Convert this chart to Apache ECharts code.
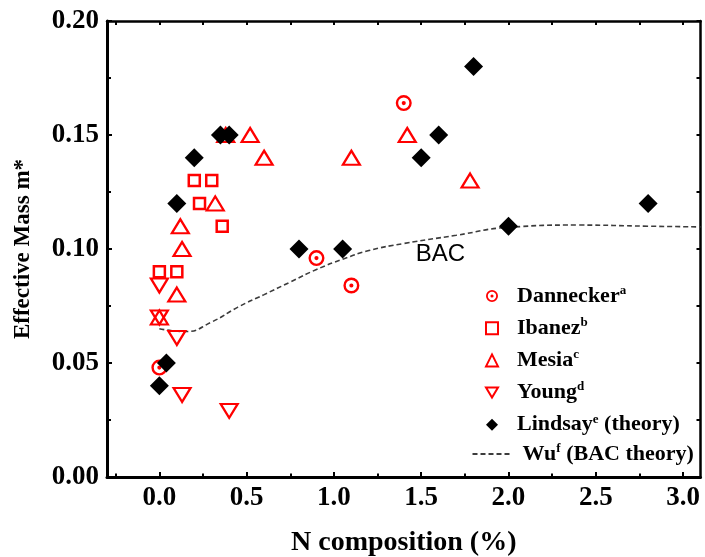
<!DOCTYPE html>
<html>
<head>
<meta charset="utf-8">
<script src="https://cdn.jsdelivr.net/npm/echarts@6/dist/echarts.min.js"></script>
<style>
  html, body { margin: 0; padding: 0; background: #fff; }
  #chart { width: 705px; height: 557px; }
</style>
</head>
<body>
<div id="chart"></div>
<script>
// Effective mass m* versus N composition (%) — [x, y] pairs per data set
const dannecker = [[0.0, 0.048], [0.9, 0.096], [1.1, 0.084], [1.4, 0.164]];
const ibanez = [[0.0, 0.090], [0.1, 0.090], [0.2, 0.130], [0.3, 0.130], [0.23, 0.120], [0.36, 0.110]];
const mesia = [[0.0, 0.070], [0.1, 0.080], [0.13, 0.100], [0.12, 0.110], [0.32, 0.120], [0.38, 0.150],
               [0.52, 0.150], [0.6, 0.140], [1.1, 0.140], [1.42, 0.150], [1.78, 0.130]];
const young = [[0.0, 0.084], [0.0, 0.070], [0.1, 0.061], [0.13, 0.036], [0.4, 0.029]];
const lindsay = [[0.0, 0.040], [0.04, 0.050], [0.1, 0.120], [0.2, 0.140], [0.35, 0.150], [0.4, 0.150],
                 [0.8, 0.100], [1.05, 0.100], [1.5, 0.140], [1.6, 0.150], [1.8, 0.180], [2.0, 0.110], [2.8, 0.120]];
const wuBAC = [[0.0, 0.065], [0.15, 0.0638], [0.3, 0.068], [0.45, 0.0745], [0.6, 0.080], [0.75, 0.0855],
               [0.9, 0.091], [1.05, 0.0955], [1.2, 0.0993], [1.4, 0.1024], [1.7, 0.106], [2.0, 0.1095],
               [2.4, 0.1105], [2.8, 0.110], [3.1, 0.1097]];
const bacLabelAt = [1.61, 0.0975];

// Axis ranges and tick labels
const xRange = [-0.3, 3.1];
const yRange = [0, 0.2];
const xMajorTicks = [0.0, 0.5, 1.0, 1.5, 2.0, 2.5, 3.0];
const xMinorTicks = [-0.25, 0.25, 0.75, 1.25, 1.75, 2.25, 2.75];
const xAllTicks = [-0.25, 0.0, 0.25, 0.5, 0.75, 1.0, 1.25, 1.5, 1.75, 2.0, 2.25, 2.5, 2.75, 3.0];

// Legend entries: name, superscript, trailing note
const seriesNames = ['Dannecker', 'Ibanez', 'Mesia', 'Young', 'Lindsay', 'Wu'];
const seriesSups = ['a', 'b', 'c', 'd', 'e', 'f'];
const seriesNotes = ['', '', '', '', ' (theory)', ' (BAC theory)'];

const SERIF = '"Liberation Serif", "Times New Roman", serif';
const RED = '#ff0000';
const ringDot = 'path://M10 0A10 10 0 1 1 -10 0A10 10 0 1 1 10 0ZM7 0A7 7 0 1 0 -7 0A7 7 0 1 0 7 0ZM2.6 0A2.6 2.6 0 1 1 -2.6 0A2.6 2.6 0 1 1 2.6 0Z';
const downTriangle = 'path://M0 0L12 0L6 10Z';

const chart = echarts.init(document.getElementById('chart'), null, { renderer: 'canvas' });

function legendText(name) {
  const i = seriesNames.indexOf(name);
  let s = '{n|' + name + '}{s|' + seriesSups[i] + '}';
  if (seriesNotes[i]) s += '{t|' + seriesNotes[i] + '}';
  return s;
}
function legendRich(lead) {
  return {
    color: '#000',
    rich: {
      n: { fontFamily: SERIF, fontWeight: 'bold', fontSize: 22, lineHeight: 24, color: '#000', padding: [0, 0, 0, lead] },
      s: { fontFamily: SERIF, fontWeight: 'bold', fontSize: 13, lineHeight: 13, color: '#000', verticalAlign: 'top' },
      t: { fontFamily: SERIF, fontWeight: 'bold', fontSize: 22, lineHeight: 24, color: '#000' }
    }
  };
}

const axisLineStyle = { color: '#000', width: 3 };
const tickStyle = { color: '#000', width: 2 };

const option = {
  backgroundColor: '#fff',
  animation: false,
  grid: { left: 107, right: 4.5, top: 21, bottom: 80, containLabel: false, outerBoundsMode: 'none' },
  legend: [
    {
      // marker entries
      orient: 'vertical', left: 480, top: 279, padding: 5,
      itemWidth: 12, itemHeight: 12, itemGap: 9.2,
      symbolKeepAspect: true,
      data: [
        { name: 'Dannecker' },
        { name: 'Ibanez' },
        { name: 'Mesia' },
        { name: 'Young', icon: downTriangle },
        { name: 'Lindsay' }
      ],
      formatter: legendText,
      textStyle: legendRich(14)
    },
    {
      // theory curve entry
      orient: 'vertical', left: 466.5, top: 437, padding: 5,
      itemWidth: 37, itemHeight: 10,
      data: [{ name: 'Wu', itemStyle: { opacity: 0 } }],
      formatter: legendText,
      textStyle: legendRich(8)
    }
  ],
  xAxis: [
    {
      type: 'value', min: xRange[0], max: xRange[1], position: 'bottom',
      name: 'N composition (%)', nameLocation: 'middle', nameGap: 52,
      nameTextStyle: { fontFamily: SERIF, fontWeight: 'bold', fontSize: 28, color: '#000' },
      axisLine: { show: true, onZero: false, lineStyle: axisLineStyle },
      axisTick: { show: true, inside: true, length: 5, lineStyle: tickStyle, customValues: xMajorTicks },
      axisLabel: {
        show: true, margin: 8, color: '#000', fontFamily: SERIF, fontWeight: 'bold', fontSize: 27,
        customValues: xMajorTicks, formatter: v => v.toFixed(1)
      },
      splitLine: { show: false }
    },
    {
      // minor ticks along the bottom edge
      type: 'value', min: xRange[0], max: xRange[1], position: 'bottom',
      axisLine: { show: false }, axisLabel: { show: false }, splitLine: { show: false },
      axisTick: { show: true, inside: true, length: 3.5, lineStyle: tickStyle, customValues: xMinorTicks }
    },
    {
      type: 'value', min: xRange[0], max: xRange[1], position: 'top',
      axisLine: { show: true, onZero: false, lineStyle: { color: '#000', width: 2.5 } },
      axisTick: { show: true, inside: true, length: 4, lineStyle: tickStyle, customValues: xAllTicks },
      axisLabel: { show: false }, splitLine: { show: false }
    }
  ],
  yAxis: [
    {
      type: 'value', min: yRange[0], max: yRange[1], interval: 0.05, position: 'left',
      name: 'Effective Mass m*', nameLocation: 'middle', nameGap: 72,
      nameTextStyle: { fontFamily: SERIF, fontWeight: 'bold', fontSize: 23, color: '#000' },
      axisLine: { show: true, onZero: false, lineStyle: axisLineStyle },
      axisTick: { show: true, inside: true, length: 5, lineStyle: tickStyle },
      minorTick: { show: true, splitNumber: 2, length: 4, lineStyle: tickStyle },
      axisLabel: {
        show: true, margin: 8, color: '#000', fontFamily: SERIF, fontWeight: 'bold', fontSize: 27,
        formatter: v => v.toFixed(2)
      },
      splitLine: { show: false }, minorSplitLine: { show: false }
    },
    {
      type: 'value', min: yRange[0], max: yRange[1], interval: 0.025, position: 'right',
      axisLine: { show: true, onZero: false, lineStyle: { color: '#000', width: 2.5 } },
      axisTick: { show: true, inside: true, length: 4, lineStyle: tickStyle },
      axisLabel: { show: false }, splitLine: { show: false }
    }
  ],
  series: [
    {
      name: 'Wu', type: 'line', data: wuBAC, z: 1,
      symbol: 'none', smooth: 0.5,
      lineStyle: { color: '#3c3c3c', width: 1.6, type: [5, 3] },
      itemStyle: { color: '#3c3c3c' },
      markPoint: {
        silent: true, symbol: 'circle', symbolSize: 0, animation: false,
        label: {
          show: true, position: 'inside', formatter: 'BAC', color: '#000',
          fontFamily: '"Liberation Sans", Arial, sans-serif', fontSize: 24
        },
        data: [{ coord: bacLabelAt }]
      }
    },
    {
      name: 'Dannecker', type: 'scatter', data: dannecker, z: 2,
      symbol: ringDot, symbolSize: 16, symbolKeepAspect: true,
      itemStyle: { color: RED, opacity: 1 }
    },
    {
      name: 'Ibanez', type: 'scatter', data: ibanez, z: 2,
      symbol: 'rect', symbolSize: 11,
      itemStyle: { color: 'rgba(255,255,255,0)', borderColor: RED, borderWidth: 2.5, opacity: 1 }
    },
    {
      name: 'Mesia', type: 'scatter', data: mesia, z: 2,
      symbol: 'triangle', symbolSize: [17, 14],
      itemStyle: { color: 'rgba(255,255,255,0)', borderColor: RED, borderWidth: 2.2, opacity: 1 }
    },
    {
      name: 'Young', type: 'scatter', data: young, z: 2,
      symbol: 'triangle', symbolSize: [17, 14], symbolRotate: 180,
      itemStyle: { color: 'rgba(255,255,255,0)', borderColor: RED, borderWidth: 2.2, opacity: 1 }
    },
    {
      name: 'Lindsay', type: 'scatter', data: lindsay, z: 3,
      symbol: 'diamond', symbolSize: 19,
      itemStyle: { color: '#000', opacity: 1 }
    }
  ]
};

chart.setOption(option);
</script>
</body>
</html>
